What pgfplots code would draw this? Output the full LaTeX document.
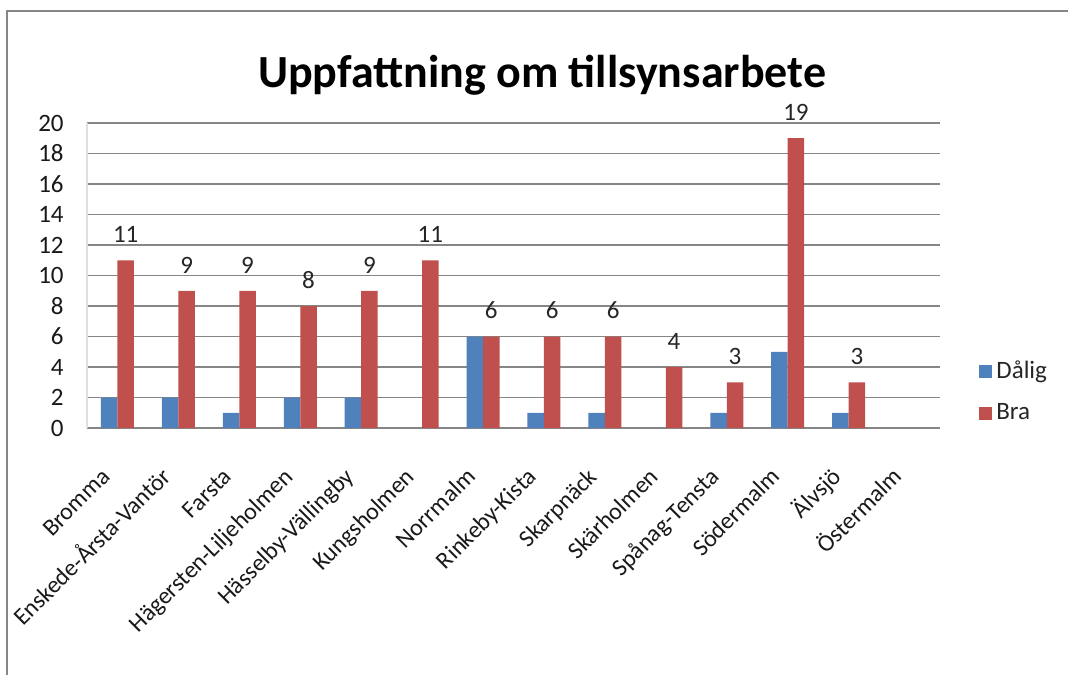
\documentclass[border=0pt]{standalone}
\usepackage{fontspec}
\setmainfont{Carlito}
\usepackage{pgfplots}
\pgfplotsset{compat=1.18}
\definecolor{dblue}{HTML}{4F81BD}
\definecolor{dred}{HTML}{C0504D}
\definecolor{gridc}{HTML}{868686}
\begin{document}
\begin{tikzpicture}
\useasboundingbox (0,0) rectangle (534pt,337.5pt);
\fill[white] (0,0) rectangle (534pt,337.5pt);
\draw[gridc, line width=1pt] (3.5pt,0) -- (3.5pt,332pt) -- (534pt,332pt);
\node[anchor=base, font=\fontsize{23}{27}\selectfont\bfseries] at (271pt,293.5pt) {Uppfattning om tillsynsarbete};
\begin{axis}[
  at={(43.5pt,123.5pt)}, anchor=south west,
  scale only axis, width=426.5pt, height=152.5pt,
  xmin=-0.5, xmax=13.5, ymin=0, ymax=20,
  ytick={0,2,...,20},
  xtick={0,...,13},
  xticklabels={Bromma,Enskede-Årsta-Vantör,Farsta,Hägersten-Liljeholmen,Hässelby-Vällingby,Kungsholmen,Norrmalm,Rinkeby-Kista,Skarpnäck,Skärholmen,Spånag-Tensta,Södermalm,Älvsjö,Östermalm},
  ymajorgrids, grid style={gridc, line width=0.6pt},
  axis x line*=bottom, axis y line*=left,
  x axis line style={gridc, line width=0.6pt},
  y axis line style={draw=gray!25, line width=0.6pt},
  major tick length=0pt,
  /pgf/number format/assume math mode=true,
  ticklabel style={font=\fontsize{12.5}{14}\selectfont, text=black!90},
  yticklabel style={anchor=east, inner sep=0pt, xshift=-11.5pt},
  xticklabel style={font=\fontsize{12}{14}\selectfont, xshift=-3pt, yshift=-25pt, rotate=45, anchor=base east, inner sep=0pt},
  ybar=0pt, bar width=8.25pt,
  clip=false,
  legend style={at={(1.0457,0.118)}, anchor=west, draw=none, fill=none, inner sep=0pt,
    row sep=7pt, font=\fontsize{12.5}{14}\selectfont, text=black!85, nodes={inner sep=2pt}},
  legend cell align=left,
  legend image code/.code={\draw[#1, draw=none] (0pt,-3.25pt) rectangle (6.5pt,3.25pt);},
]
\addplot[fill=dblue, draw=none] coordinates {(0,2)(1,2)(2,1)(3,2)(4,2)(6,6)(7,1)(8,1)(10,1)(11,5)(12,1)};
\addplot[fill=dred, draw=none, nodes near coords,
  every node near coord/.append style={inner sep=0pt, yshift=8.5pt, font=\fontsize{12.5}{14}\selectfont, text=black!85}]
  coordinates {(0,11)(1,9)(2,9)(3,8)(4,9)(5,11)(6,6)(7,6)(8,6)(9,4)(10,3)(11,19)(12,3)};
\legend{Dålig,Bra}
\end{axis}
\end{tikzpicture}
\end{document}
